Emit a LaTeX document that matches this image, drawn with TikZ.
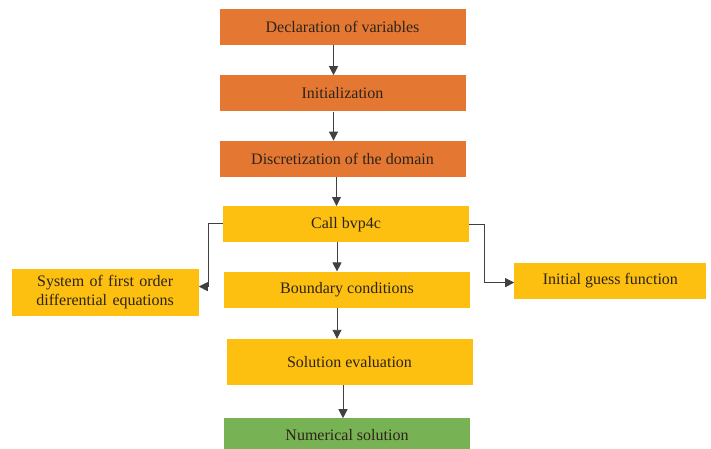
\documentclass[tikz,border=0pt]{standalone}
\usepackage{tikz}
\usepackage{fontspec}
\setmainfont{Liberation Serif}
\definecolor{myorange}{RGB}{228,120,50}
\definecolor{myyellow}{RGB}{253,192,16}
\definecolor{mygreen}{RGB}{119,178,84}
\definecolor{mytext}{RGB}{45,35,25}
\usetikzlibrary{positioning,arrows.meta}

\begin{document}
\begin{tikzpicture}[
    every node/.style={rectangle,minimum width=246pt,minimum height=36pt,
        inner sep=2pt,text=mytext,font=\fontsize{16}{18.5}\selectfont,align=center},
    obox/.style={fill=myorange},
    ybox/.style={fill=myyellow},
    gbox/.style={fill=mygreen},
    arr/.style={-{Triangle[length=9pt,width=9pt]},line width=0.9pt,draw=black!75},
    node distance=30pt
    ]
    \useasboundingbox (0,0) rectangle (711pt,-449pt);

    \node (decl) [obox] at (342.5pt,-27pt) {Declaration of variables};
    \node (init) [obox,below=of decl] {Initialization};
    \node (disc) [obox,below=29pt of init] {Discretization of the domain};
    \node (call) [ybox,below=29pt of disc,xshift=3.5pt] {Call bvp4c};
    \node (bound) [ybox,below=29pt of call,xshift=1pt] {Boundary conditions};
    \node (sol) [ybox,below=31pt of bound,xshift=2.5pt,minimum height=46pt] {Solution evaluation};
    \node (num) [gbox,below=33pt of sol,xshift=-2.5pt,minimum height=33pt] {Numerical solution};
    \node (sys) [ybox,left=25pt of bound,yshift=-2.5pt,minimum width=187pt,minimum height=47pt,
        text width=180pt] {System of first order\\differential equations};
    \node (guess) [ybox,right=44pt of bound,yshift=9pt,minimum width=192pt] {Initial guess function};

    % the arrows
    \draw[arr] ([xshift=-9pt]decl.south) -- ([xshift=-9pt]decl.south |- init.north);
    \draw[arr] ([xshift=-9pt]init.south) -- ([xshift=-9pt]init.south |- disc.north);
    \draw[arr] ([xshift=-6pt]disc.south) -- ([xshift=-6pt]disc.south |- call.north);
    \draw[arr] ([xshift=-9pt]call.south) -- ([xshift=-9pt]call.south |- bound.north);
    \draw[arr] ([xshift=-10pt]bound.south) -- ([xshift=-10pt]bound.south |- sol.north);
    \draw[arr] ([xshift=-6.5pt]sol.south) -- ([xshift=-6.5pt]sol.south |- num.north);
    \draw[arr] ([yshift=1pt]call.west) -- ++(-14pt,0) |- ([yshift=5.5pt]sys.east);
    \draw[arr] ([yshift=0pt]call.east) -- ++(15pt,0) |- ([yshift=-2pt]guess.west);
\end{tikzpicture}
\end{document}
